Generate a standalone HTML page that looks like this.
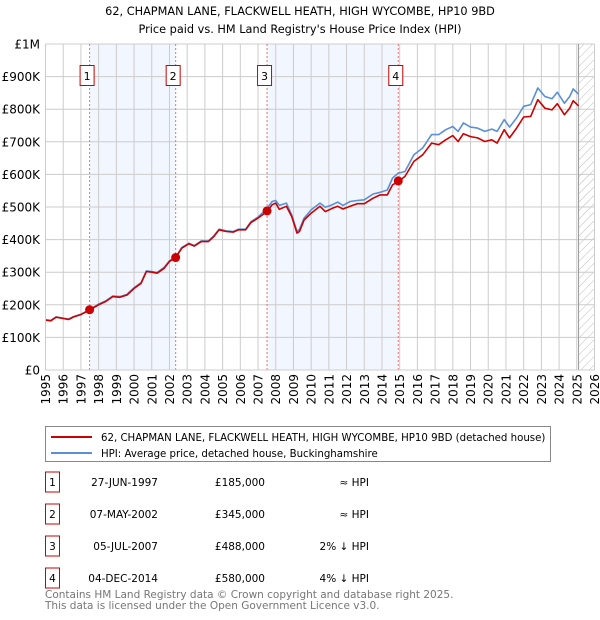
<!DOCTYPE html>
<html><head><meta charset="utf-8"><style>
body{margin:0;background:#fff;}
svg{display:block;font-family:"DejaVu Sans","Liberation Sans",sans-serif;}
</style></head><body>
<svg id="chart" width="600" height="620" viewBox="0 0 600 620" xmlns="http://www.w3.org/2000/svg">
<defs><pattern id="hatch" width="6" height="6" patternUnits="userSpaceOnUse" patternTransform="rotate(45)"><line x1="0" y1="0" x2="0" y2="6" stroke="#bbb" stroke-width="1"/></pattern></defs>
<text x="300" y="15" text-anchor="middle" font-size="11.3">62, CHAPMAN LANE, FLACKWELL HEATH, HIGH WYCOMBE, HP10 9BD</text>
<text x="300" y="33" text-anchor="middle" font-size="11.3">Price paid vs. HM Land Registry's House Price Index (HPI)</text>
<g id="plot"></g>
<g>
<rect x="45.5" y="426.5" width="505" height="35" fill="#fff" stroke="#888"/>
<line x1="51" y1="437" x2="92" y2="437" stroke="#cc0000" stroke-width="2"/>
<text x="101" y="441" font-size="10.2">62, CHAPMAN LANE, FLACKWELL HEATH, HIGH WYCOMBE, HP10 9BD (detached house)</text>
<line x1="51" y1="453" x2="92" y2="453" stroke="#5b8fd6" stroke-width="2"/>
<text x="101" y="457" font-size="10.2">HPI: Average price, detached house, Buckinghamshire</text>
</g>
<g id="table"></g>
<text x="45" y="598" font-size="10.5" fill="#777">Contains HM Land Registry data © Crown copyright and database right 2025.</text>
<text x="45" y="609" font-size="10.5" fill="#777">This data is licensed under the Open Government Licence v3.0.</text>
</svg>
<script>
const dates=[1995.0,1995.3,1995.6,1996.0,1996.3,1996.6,1997.0,1997.49,1998.0,1998.4,1998.8,1999.2,1999.6,2000.0,2000.4,2000.7,2001.0,2001.3,2001.7,2002.0,2002.35,2002.7,2003.1,2003.4,2003.8,2004.2,2004.5,2004.8,2005.2,2005.6,2005.9,2006.3,2006.6,2007.0,2007.5,2007.8,2008.0,2008.2,2008.6,2008.9,2009.2,2009.34,2009.6,2010.0,2010.5,2010.8,2011.2,2011.5,2011.8,2012.2,2012.6,2013.0,2013.5,2013.9,2014.3,2014.6,2014.92,2015.3,2015.8,2016.3,2016.8,2017.2,2017.6,2018.0,2018.3,2018.6,2019.0,2019.4,2019.8,2020.2,2020.5,2020.9,2021.2,2021.6,2022.0,2022.4,2022.8,2023.2,2023.6,2023.9,2024.3,2024.6,2024.8,2025.1];
const priceValues=[153,151,162,158,155,163,170,184,200,210,225,223,230,250,266,302,300,297,312,333,345,374,387,380,394,394,409,430,425,423,430,430,452,466,486,507,512,493,502,471,420,425,460,481,502,486,496,502,494,502,510,510,527,537,537,568,578,594,640,660,696,691,706,719,701,725,716,712,701,706,696,737,712,742,776,778,829,803,798,817,783,803,826,810];
const hpiValues=[154,152,163,159,156,164,171,185,202,212,227,225,232,252,268,304,302,299,315,335,347,376,389,382,396,396,411,432,427,425,432,432,455,469,495,517,520,505,512,476,425,432,466,491,512,499,507,515,505,517,520,522,540,545,552,589,604,609,660,681,722,722,737,747,732,758,745,742,732,739,732,768,745,773,809,814,865,839,832,852,818,839,862,846];
const saleDates=[1997.49,2002.35,2007.51,2014.92];
const salePrices=[185,345,488,580];
const saleLabels=["1","2","3","4"];
const saleDateText=["27-JUN-1997","07-MAY-2002","05-JUL-2007","04-DEC-2014"];
const salePriceText=["£185,000","£345,000","£488,000","£580,000"];
const saleHpiText=["≈ HPI","≈ HPI","2% ↓ HPI","4% ↓ HPI"];
const yTicks=[0,100,200,300,400,500,600,700,800,900,1000];
const yTickLabels=["£0","£100K","£200K","£300K","£400K","£500K","£600K","£700K","£800K","£900K","£1M"];
const xYears=[1995,1996,1997,1998,1999,2000,2001,2002,2003,2004,2005,2006,2007,2008,2009,2010,2011,2012,2013,2014,2015,2016,2017,2018,2019,2020,2021,2022,2023,2024,2025,2026];

const NS="http://www.w3.org/2000/svg";
const X0=45.5,X1=594.5,Y0=370,Y1=44;
const xs=v=>X0+(v-1995)/(2026-1995)*(X1-X0);
const ys=v=>Y0-v/1000*(Y0-Y1);
const plot=document.getElementById('plot');
function mk(tag,attrs,parent){const e=document.createElementNS(NS,tag);for(const k in attrs)e.setAttribute(k,attrs[k]);(parent||plot).appendChild(e);return e;}
for(let i=0;i<saleDates.length;i+=2){
 const r=mk('rect',{x:xs(saleDates[i]),y:Y1,width:xs(saleDates[i+1])-xs(saleDates[i]),height:Y0-Y1,fill:'#f2f6fe'});
 
 
}
const hz=mk('rect',{x:xs(2025.1),y:Y1,width:X1-xs(2025.1),height:Y0-Y1,fill:'url(#hatch)'});


xYears.forEach(y=>{
 const l=mk('line',{x1:xs(y),x2:xs(y),y1:Y1,y2:Y0,stroke:'#ccc','stroke-width':1});
 
 
 const t=mk('text',{x:0,y:0,'font-size':12,'text-anchor':'end',transform:`translate(${xs(y)+4.5},${Y0+4}) rotate(-90)`});
 t.textContent=y;
 
 
});
yTicks.forEach((v,i)=>{
 const l=mk('line',{x1:X0,x2:X1,y1:ys(v),y2:ys(v),stroke:'#ccc','stroke-width':1});
 
 
 const t=mk('text',{x:40,y:ys(v)+4.5,'font-size':12,'text-anchor':'end'});
 t.textContent=yTickLabels[i];
 
 
});
const nl=mk('line',{x1:xs(2025.1),x2:xs(2025.1),y1:Y1,y2:Y0,stroke:'#999','stroke-width':1});


saleDates.forEach((d,i)=>{
 const l=mk('line',{x1:xs(d),x2:xs(d),y1:Y1,y2:Y0,stroke:'#f07070','stroke-width':1,'stroke-dasharray':'2,2'});
 
 
 const g=mk('g',{});
 
 
 mk('rect',{x:xs(d)-9.5,y:65.5,width:14,height:20,fill:'#fff',stroke:'#cc0000'},g);
 const t=mk('text',{x:xs(d)-2.5,y:80,'font-size':11,'text-anchor':'middle'},g);t.textContent=saleLabels[i];
});
function path(vals,color,name){
 const d=dates.map((t,i)=>(i?'L':'M')+xs(t).toFixed(1)+','+ys(vals[i]).toFixed(1)).join('');
 const p=mk('path',{d:d,fill:'none',stroke:color,'stroke-width':1.6,'stroke-linejoin':'round'});
 
 
}
path(hpiValues,'#5b8fd6','hpi-line');
path(priceValues,'#cc0000','price-line');
saleDates.forEach((d,i)=>{
 const c=mk('circle',{cx:xs(d),cy:ys(salePrices[i]),r:4.5,fill:'#cc0000'});
 
 
});
mk('line',{x1:X0,x2:X0,y1:Y1,y2:Y0,stroke:'#ccc'});
mk('line',{x1:X0,x2:X1,y1:Y0,y2:Y0,stroke:'#ccc'});
const tb=document.getElementById('table');
const rowY=[482,514,546,578];
saleLabels.forEach((lab,i)=>{
 const g=mk('g',{},tb);
 
 
 mk('rect',{x:45.5,y:rowY[i]-10,width:14,height:20,fill:'#fff',stroke:'#cc0000'},g);
 const a=mk('text',{x:52.5,y:rowY[i]+4,'font-size':10.5,'text-anchor':'middle'},g);a.textContent=lab;
 const b=mk('text',{x:158,y:rowY[i]+4,'font-size':10.5,'text-anchor':'end'},g);b.textContent=saleDateText[i];
 const c=mk('text',{x:265,y:rowY[i]+4,'font-size':10.5,'text-anchor':'end'},g);c.textContent=salePriceText[i];
 const e=mk('text',{x:369,y:rowY[i]+4,'font-size':10.5,'text-anchor':'end'},g);e.textContent=saleHpiText[i];
});
</script>
</body></html>
